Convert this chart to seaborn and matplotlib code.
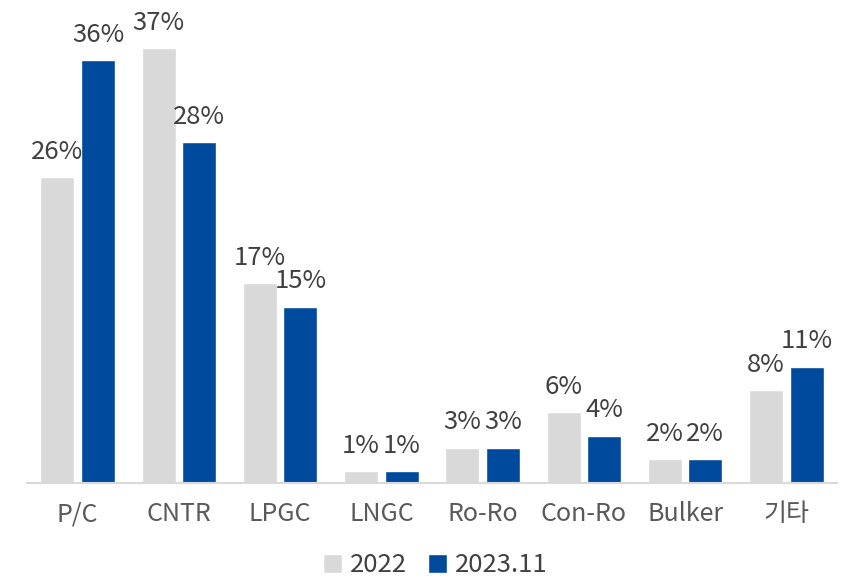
import pandas as pd
import matplotlib.pyplot as plt
import seaborn as sns

# bar heights (%), and the printed labels
categories = ['P/C', 'CNTR', 'LPGC', 'LNGC', 'Ro-Ro', 'Con-Ro', 'Bulker', '기타']
values_2022 = [26, 37, 17, 1, 3, 6, 2, 7.9]
values_2023 = [36, 29, 15, 1, 3, 4, 2, 9.9]
labels_2022 = ['26%', '37%', '17%', '1%', '3%', '6%', '2%', '8%']
labels_2023 = ['36%', '28%', '15%', '1%', '3%', '4%', '2%', '11%']
series = ['2022', '2023.11']

df = pd.DataFrame({
    'category': categories * 2,
    'value': values_2022 + values_2023,
    'year': [series[0]] * len(categories) + [series[1]] * len(categories),
})

sns.set_style('white')
plt.rcParams['font.family'] = ['Noto Sans CJK KR', 'DejaVu Sans']

fig, ax = plt.subplots(figsize=(8.45, 5.78), dpi=100)
fig.subplots_adjust(left=0.032, right=0.9905, bottom=0.1644, top=0.9775)

palette = {'2022': '#D9D9D9', '2023.11': '#004A9E'}
sns.barplot(data=df, x='category', y='value', hue='year', palette=palette,
            width=0.8, gap=0.16, ax=ax, legend=True, saturation=1)

# value labels above each bar
for container, labels in zip(ax.containers, [labels_2022, labels_2023]):
    ax.bar_label(container, labels=labels, padding=9, fontsize=18.5, color='#404040')

ax.set_ylim(0, 40)
ax.set_xlim(-0.5, len(categories) - 0.5)
ax.set_xlabel('')
ax.set_ylabel('')
ax.set_yticks([])
for side in ['top', 'left', 'right']:
    ax.spines[side].set_visible(False)
ax.spines['bottom'].set_color('#D9D9D9')
ax.spines['bottom'].set_linewidth(1.5)
ax.tick_params(axis='x', length=0, pad=13, labelsize=18, labelcolor='#595959')

handles, labs = ax.get_legend_handles_labels()
ax.get_legend().remove()
fig.legend(handles, labs, loc='center', bbox_to_anchor=(0.515, 0.022), ncol=2,
           frameon=False, fontsize=18.5, handlelength=0.75, handleheight=0.8,
           handletextpad=0.3, columnspacing=0.8, labelcolor='#404040',
           borderpad=0.1)

plt.savefig('out.png', dpi=100)
